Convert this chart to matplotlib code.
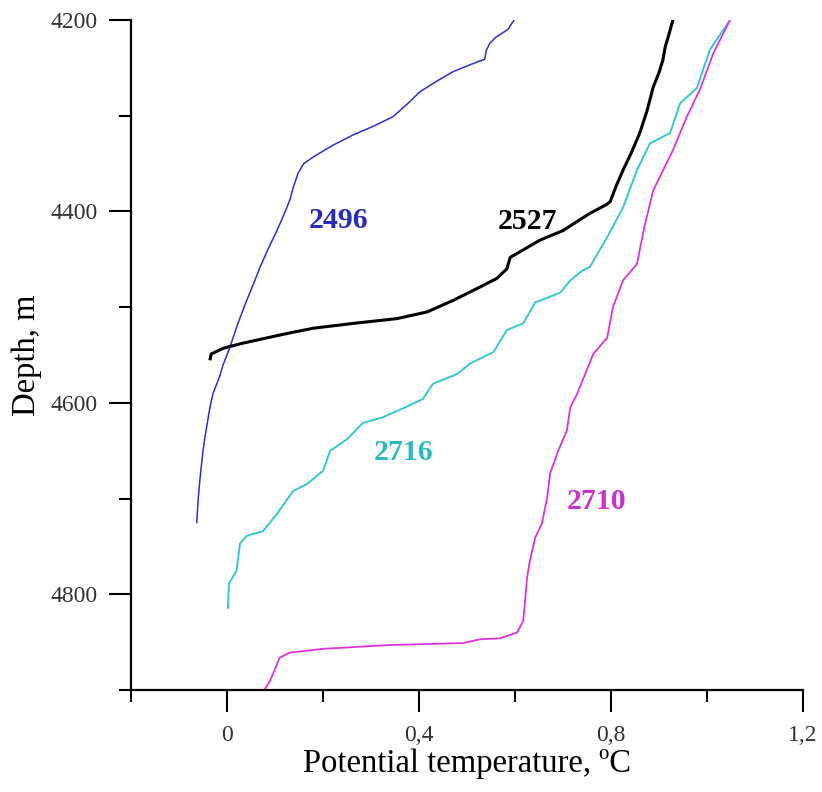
import numpy as np
import matplotlib.pyplot as plt
from matplotlib.ticker import FixedLocator, FuncFormatter

plt.rcParams['font.family'] = ['Liberation Serif', 'DejaVu Serif']

# профили потенциальной температуры по станциям (T, глубина)
t_2496 = [0.598, 0.585, 0.560, 0.548, 0.540, 0.537, 0.505, 0.471, 0.440, 0.402, 0.375, 0.346,
          0.305, 0.263, 0.220, 0.180, 0.160, 0.148, 0.138, 0.131, 0.118, 0.104, 0.085, 0.069,
          0.055, 0.041, 0.022, 0.006, -0.008, -0.015, -0.029, -0.036, -0.046, -0.050, -0.056,
          -0.060, -0.063]
d_2496 = [4200, 4210, 4218, 4224, 4232, 4241, 4247, 4254, 4263, 4275, 4288, 4301,
          4311, 4320, 4331, 4343, 4350, 4360, 4375, 4388, 4404, 4420, 4440, 4458,
          4476, 4493, 4518, 4542, 4560, 4572, 4590, 4606, 4636, 4650, 4678,
          4700, 4725]

t_2527 = [-0.035, -0.033, -0.008, 0.030, 0.075, 0.130, 0.180, 0.263, 0.354, 0.417, 0.471,
          0.527, 0.562, 0.583, 0.590, 0.604, 0.652, 0.700, 0.756, 0.790, 0.798, 0.812, 0.825,
          0.843, 0.860, 0.875, 0.888, 0.900, 0.908, 0.913, 0.919, 0.929]
d_2527 = [4554, 4549, 4543, 4538, 4533, 4527, 4522, 4517, 4512, 4505, 4493,
          4479, 4470, 4460, 4448, 4444, 4430, 4420, 4402, 4393, 4390, 4372, 4357,
          4338, 4318, 4295, 4270, 4255, 4242, 4228, 4218, 4200]

t_2716 = [0.002, 0.004, 0.012, 0.020, 0.027, 0.041, 0.075, 0.104, 0.138, 0.166, 0.200, 0.215,
          0.250, 0.283, 0.325, 0.370, 0.408, 0.429, 0.479, 0.506, 0.555, 0.583, 0.617, 0.642,
          0.694, 0.715, 0.740, 0.756, 0.792, 0.825, 0.854, 0.881, 0.923, 0.944, 0.979, 1.006,
          1.048]
d_2716 = [4814, 4789, 4782, 4775, 4747, 4739, 4734, 4716, 4692, 4685, 4671, 4650,
          4638, 4621, 4615, 4605, 4596, 4580, 4570, 4559, 4547, 4524, 4517, 4495,
          4485, 4472, 4462, 4458, 4427, 4396, 4357, 4329, 4318, 4287, 4271, 4231,
          4200]

t_2710 = [0.073, 0.090, 0.110, 0.131, 0.200, 0.340, 0.492, 0.527, 0.569, 0.604, 0.617, 0.621,
          0.625, 0.631, 0.642, 0.656, 0.667, 0.673, 0.690, 0.708, 0.715, 0.729, 0.746, 0.763,
          0.792, 0.804, 0.825, 0.854, 0.870, 0.888, 0.929, 0.958, 0.985, 1.013, 1.048]
d_2710 = [4904, 4890, 4866, 4861, 4857, 4853, 4851, 4847, 4846, 4840, 4828, 4807,
          4783, 4765, 4741, 4726, 4699, 4674, 4650, 4629, 4605, 4591, 4570, 4549,
          4532, 4500, 4472, 4455, 4415, 4378, 4336, 4301, 4273, 4235, 4200]

stations = ['2496', '2527', '2716', '2710']
label_pos = [(0.233, 4409), (0.627, 4411), (0.367, 4652), (0.769, 4703)]

x_major = [0, 0.4, 0.8, 1.2]
x_minor = [-0.2, 0.2, 0.6, 1.0]
y_major = [4200, 4400, 4600, 4800]
y_minor = [4300, 4500, 4700, 4900]

fig = plt.figure(figsize=(8.22, 7.92), dpi=100)
ax = fig.add_axes([131 / 822, 1 - 690 / 792, 672 / 822, 670 / 792])

ax.plot(t_2496, d_2496, color='#2e2ed0', lw=1.1)
ax.plot(t_2716, d_2716, color='#35c8cf', lw=1.4)
ax.plot(t_2710, d_2710, color='#dd33dd', lw=1.3)
ax.plot(t_2527, d_2527, color='black', lw=2.2)

lab_colors = ['#2a2abf', 'black', '#2fb9c2', '#cc30cc']
for s, (x, y), c in zip(stations, label_pos, lab_colors):
    ax.text(x, y, s, color=c, fontsize=21.5, fontweight='bold', ha='center', va='center')

ax.set_xlim(-0.2, 1.2)
ax.set_ylim(4900, 4200)

for sp in ['top', 'right']:
    ax.spines[sp].set_visible(False)
for sp in ['left', 'bottom']:
    ax.spines[sp].set_linewidth(1.6)

ax.xaxis.set_major_locator(FixedLocator(x_major))
ax.xaxis.set_minor_locator(FixedLocator(x_minor))
ax.yaxis.set_major_locator(FixedLocator(y_major))
ax.yaxis.set_minor_locator(FixedLocator(y_minor))
ax.xaxis.set_major_formatter(FuncFormatter(lambda v, p: ('%g' % v).replace('.', ',')))
ax.tick_params(which='major', direction='out', length=16, width=1.5, labelsize=17, pad=8)
ax.tick_params(which='minor', direction='out', length=8.5, width=1.5)
ax.tick_params(axis='x', which='major', pad=9)
for lbl in ax.get_xticklabels() + ax.get_yticklabels():
    lbl.set_color('#333333')

ax.set_xlabel('Potential temperature, ºC', fontsize=23.5, labelpad=2)
ax.set_ylabel('Depth, m', fontsize=23.5, labelpad=6)

fig.savefig('out.png', dpi=100)
